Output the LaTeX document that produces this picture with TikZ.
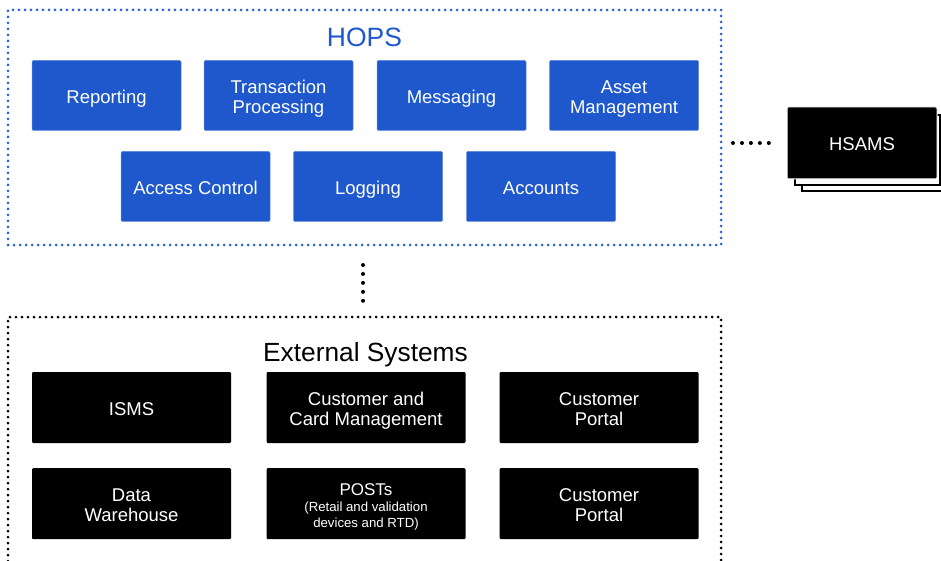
\documentclass[tikz,border=0pt]{standalone}
\usepackage{fontspec}
\setmainfont{Liberation Sans}
\definecolor{hopsblue}{RGB}{30,88,204}
\definecolor{framblue}{RGB}{38,100,214}
\newcommand{\smallfnt}{\fontsize{13.2}{15}\selectfont}
\newcommand{\tx}[1]{\raisebox{-3.6pt}[\height][\depth]{\begin{tabular}{@{}c@{}}#1\end{tabular}}}
\begin{document}
\begin{tikzpicture}[x=1pt,y=-1pt,
  boxtext/.style={text=white,font=\fontsize{18.5}{20}\selectfont,inner sep=0pt},
  hopsbox/.style={boxtext,fill=hopsblue,draw=hopsblue!70!white,line width=0.5pt,rounded corners=1.2pt,minimum width=149pt,minimum height=70pt},
  extbox/.style={boxtext,fill=black,rounded corners=1.2pt,minimum width=199pt,minimum height=71pt},
  frame/.style={line width=3pt,line cap=round,dash pattern=on 0pt off 6pt,inner sep=0pt,outer sep=0pt},
  conn/.style={line width=4pt,line cap=round,dash pattern=on 0pt off 8.95pt},
  title/.style={font=\fontsize{26.5}{30}\selectfont,inner sep=0pt,anchor=base}
]
\clip (0,0) rectangle (941,561);
\path[fill=white] (0,0) rectangle (941,561);

% frames
\node[frame,draw=framblue,minimum width=713pt,minimum height=235pt] (hops) at (364.5,127.5) {};
\node[frame,draw=black,minimum width=713pt,minimum height=280pt] (ext) at (364.5,457) {};

% titles
\node[title,text=hopsblue] (hopstitle) at (364.5,47) {HOPS};
\node[title,text=black,font=\fontsize{26.3}{30}\selectfont] (exttitle) at (365.5,361) {External Systems};

% HOPS components
\node[hopsbox] (reporting) at (106.5,95.5) {\tx{Reporting}};
\node[hopsbox] (trans) at (278.5,95.5) {\tx{Transaction\\Processing}};
\node[hopsbox] (messaging) at (451.5,95.5) {\tx{Messaging}};
\node[hopsbox] (asset) at (624,95.5) {\tx{Asset\\Management}};
\node[hopsbox] (access) at (195.5,186.5) {\tx{Access Control}};
\node[hopsbox] (logging) at (368,186.5) {\tx{Logging}};
\node[hopsbox] (accounts) at (541,186.5) {\tx{Accounts}};

% External systems
\node[extbox] (isms) at (131.5,407.5) {\tx{ISMS}};
\node[extbox] (ccm) at (366,407.5) {\tx{Customer and\\Card Management}};
\node[extbox] (portal1) at (599,407.5) {\tx{Customer\\Portal}};
\node[extbox] (dw) at (131.5,503.7) {\tx{Data\\Warehouse}};
\node[extbox] (posts) at (366,503.7) {\tx{{\fontsize{17}{20}\selectfont POSTs}\\[-4pt]{\smallfnt (Retail and validation}\\[-4.5pt]{\smallfnt devices and RTD)}}};
\node[extbox] (portal2) at (599,503.7) {\tx{Customer\\Portal}};

% HSAMS stack
\draw[fill=white,line width=2pt] (802,122) rectangle (960,191.5);
\draw[fill=white,line width=2pt] (795,115) rectangle (940,185);
\node[boxtext,fill=black,draw=white,line width=1pt,rounded corners=1.2pt,minimum width=150pt,minimum height=72pt] (hsams) at (862,143) {\tx{HSAMS}};

% connectors
\draw[conn] ([yshift=-20pt]hops.south -| 363,0) -- ([yshift=16pt]ext.north -| 363,0);
\draw[conn] ([xshift=12pt]hsams.west -| hops.east) -- ([xshift=-17.5pt]hsams.west);
\end{tikzpicture}
\end{document}
